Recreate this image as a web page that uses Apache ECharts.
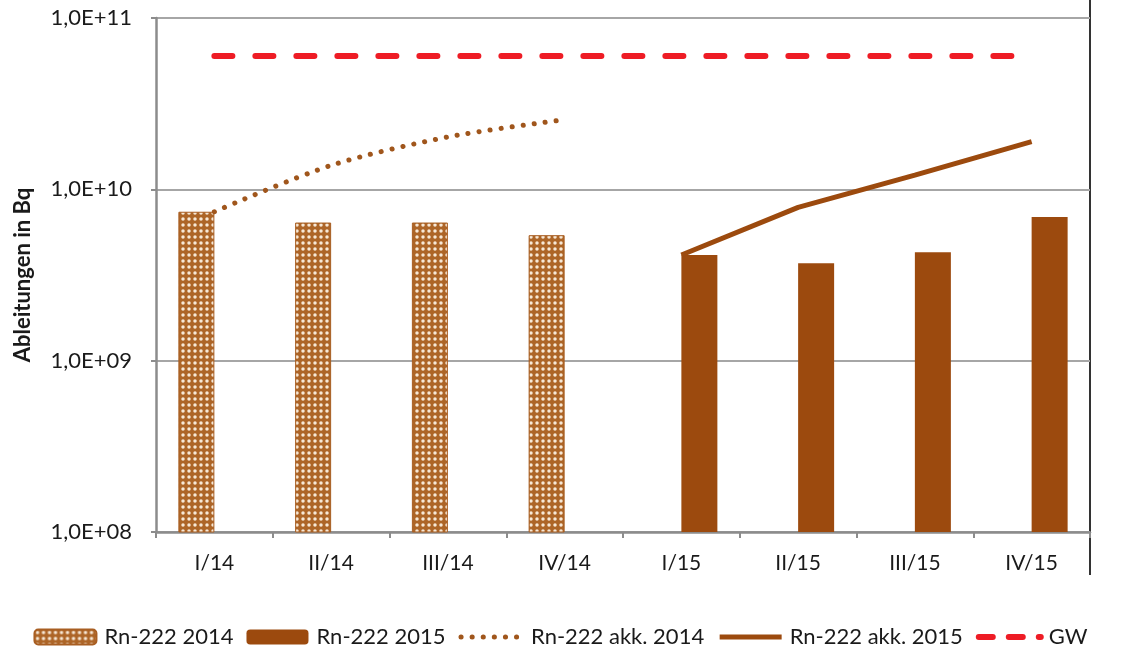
<!DOCTYPE html>
<html>
<head>
<meta charset="utf-8">
<script src="https://cdn.jsdelivr.net/npm/echarts@6/dist/echarts.min.js"></script>
<style>
    html, body { margin: 0; padding: 0; background: #fff; }
    #chart { width: 1121px; height: 659px; }
</style>
</head>
<body>
<div id="chart"></div>
<script>
const quarters = ['I/14', 'II/14', 'III/14', 'IV/14', 'I/15', 'II/15', 'III/15', 'IV/15']
const rn2014 = [7.4e9, 6.4e9, 6.4e9, 5.4e9, null, null, null, null]
const rn2015 = [null, null, null, null, 4.14e9, 3.7e9, 4.3e9, 6.9e9]
const akk2014 = [7.4e9, 1.38e10, 2.02e10, 2.55e10, null, null, null, null]
const akk2015 = [null, null, null, null, 4.14e9, 7.85e9, 1.21e10, 1.9e10]
const gw = [6e10, 6e10, 6e10, 6e10, 6e10, 6e10, 6e10, 6e10]

const BROWN = '#9c4a0e'
const DOT_BROWN = '#a0561c'
const RED = '#ee1c25'
const FONT = 'Lato, "Open Sans", sans-serif'

const dotted = [0.1, 11]
const dashed = [18, 23]

// crosshatch tile for the 2014 bars: brown lattice with light holes
function hatchTile() {
    const c = document.createElement('canvas')
    c.width = 6
    c.height = 6
    const ctx = c.getContext('2d')
    ctx.fillStyle = '#ad6527'
    ctx.fillRect(0, 0, 6, 6)
    ctx.fillStyle = '#f7e8d6'
    ctx.beginPath()
    ctx.arc(3, 3, 1.75, 0, Math.PI * 2)
    ctx.fill()
    return c
}
const hatch = { image: hatchTile(), repeat: 'repeat' }

const chart = echarts.init(document.getElementById('chart'))
chart.setOption({
    animation: false,
    textStyle: { fontFamily: FONT },
    grid: { left: 156, right: 31, top: 18, bottom: 127 },
    legend: {
        bottom: 6,
        left: 'center',
        itemWidth: 62,
        itemHeight: 15,
        itemGap: 13,
        textStyle: { fontSize: 22, color: '#1a1a1a', fontFamily: FONT, padding: [0, 0, 0, 3] },
        data: [
            'Rn-222 2014',
            'Rn-222 2015',
            { name: 'Rn-222 akk. 2014', itemStyle: { opacity: 0 }, lineStyle: { width: 5, type: dotted, cap: 'round', color: DOT_BROWN } },
            { name: 'Rn-222 akk. 2015', itemStyle: { opacity: 0 }, lineStyle: { width: 5, color: BROWN } },
            { name: 'GW', itemStyle: { opacity: 0 }, lineStyle: { width: 6, type: [14, 16], cap: 'round', color: RED } }
        ]
    },
    xAxis: {
        type: 'category',
        data: quarters,
        axisLine: { lineStyle: { color: '#8c8c8c', width: 2.5 } },
        axisTick: { show: true, length: 6, lineStyle: { color: '#8c8c8c', width: 2 } },
        axisLabel: { fontSize: 21, color: '#1a1a1a', margin: 21 }
    },
    yAxis: {
        type: 'log',
        logBase: 10,
        min: 1e8,
        max: 1e11,
        name: 'Ableitungen in Bq',
        nameLocation: 'middle',
        nameGap: 122,
        nameTextStyle: { fontSize: 22, fontWeight: 'bold', color: '#1a1a1a' },
        axisLine: { show: true, lineStyle: { color: '#8c8c8c', width: 2.5 } },
        axisTick: { show: true, length: 5, lineStyle: { color: '#8c8c8c', width: 2 } },
        splitLine: { lineStyle: { color: '#a6a6a6', width: 2 } },
        axisLabel: {
            fontSize: 22,
            color: '#1a1a1a',
            margin: 24,
            formatter: v => {
                const e = Math.round(Math.log10(v))
                return '1,0E+' + (e < 10 ? '0' + e : e)
            }
        }
    },
    series: [
        {
            name: 'Rn-222 2014',
            type: 'bar',
            data: rn2014,
            barWidth: 36,
            barGap: '0%',
            itemStyle: { color: hatch, borderColor: '#a85e22', borderWidth: 1 }
        },
        {
            name: 'Rn-222 2015',
            type: 'bar',
            data: rn2015,
            barWidth: 36,
            barGap: '0%',
            itemStyle: { color: BROWN }
        },
        {
            name: 'Rn-222 akk. 2014',
            type: 'line',
            data: akk2014,
            symbol: 'none',
            smooth: 0.3,
            itemStyle: { color: DOT_BROWN },
            lineStyle: { color: DOT_BROWN, width: 5, type: dotted, cap: 'round' }
        },
        {
            name: 'Rn-222 akk. 2015',
            type: 'line',
            data: akk2015,
            symbol: 'none',
            itemStyle: { color: BROWN },
            lineStyle: { color: BROWN, width: 5 }
        },
        {
            name: 'GW',
            type: 'line',
            data: gw,
            symbol: 'none',
            itemStyle: { color: RED },
            lineStyle: { color: RED, width: 6, type: dashed, cap: 'round' }
        }
    ],
    graphic: [
        {
            type: 'line',
            shape: { x1: 1090, y1: 0, x2: 1090, y2: 575 },
            style: { stroke: '#333', lineWidth: 2 }
        }
    ]
})
</script>
</body>
</html>
